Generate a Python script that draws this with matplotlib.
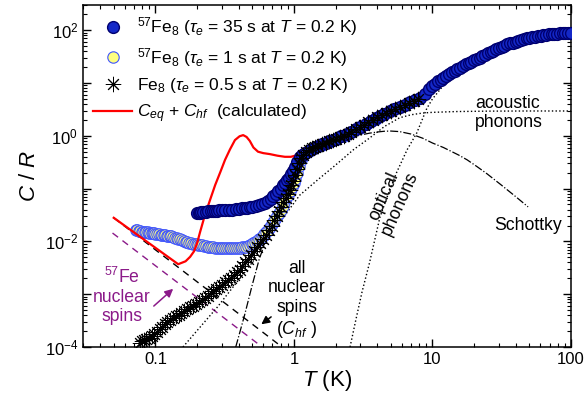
import numpy as np
import matplotlib
matplotlib.use('Agg')
import matplotlib.pyplot as plt
from matplotlib.ticker import LogLocator, FuncFormatter, NullFormatter

plt.rcParams['font.family'] = 'Liberation Sans'
plt.rcParams['mathtext.fontset'] = 'custom'
plt.rcParams['mathtext.rm'] = 'Liberation Sans'
plt.rcParams['mathtext.it'] = 'Liberation Sans:italic'

# 57Fe8, tau_e = 35 s
T_blue = [0.20, 0.205, 0.21, 0.215, 0.22, 0.23, 0.24, 0.25, 0.26, 0.27, 0.28, 0.29, 0.30, 0.32, 0.34,
          0.36, 0.38, 0.40, 0.42, 0.44, 0.46, 0.48, 0.50, 0.53, 0.56, 0.59, 0.62, 0.65, 0.68, 0.71,
          0.74, 0.77, 0.80, 0.83, 0.86, 0.89, 0.92, 0.95, 0.98, 1.01, 1.05, 1.1, 1.15, 1.2, 1.3, 1.4,
          1.5, 1.6, 1.7, 1.8, 1.9, 2.0, 2.2, 2.4, 2.6, 2.8, 3.0, 3.3, 3.6, 3.9, 4.2, 4.5, 4.9, 5.3,
          5.8, 6.3, 6.9, 7.5, 8.1, 8.8, 9.5,
          10.0, 10.5, 11.0, 11.5, 12.0, 12.6, 13.2, 13.8, 14.5, 15.1, 15.8, 16.6, 17.4, 18.2, 19.1,
          20.0, 20.9, 21.9, 22.9, 24.0, 25.1, 26.3, 27.5, 28.8, 30.2, 31.6, 33.1, 34.7, 36.3, 38.0,
          39.8, 41.7, 43.7, 45.7, 47.9, 50.1, 52.5, 55.0, 57.5, 60.3, 63.1, 66.1, 69.2, 72.4, 75.9,
          79.4, 83.2, 87.1, 91.2, 95.5, 100]
C_blue = [0.0345, 0.035, 0.035, 0.0355, 0.036, 0.036, 0.037, 0.037, 0.0375, 0.038, 0.038, 0.039, 0.039,
          0.0395, 0.040, 0.040, 0.041, 0.041, 0.042, 0.042, 0.043, 0.044, 0.045, 0.047, 0.049, 0.051,
          0.054, 0.058, 0.064, 0.072, 0.08, 0.09, 0.10, 0.115, 0.13, 0.145, 0.16, 0.19, 0.22, 0.26,
          0.32, 0.40, 0.44, 0.48, 0.55, 0.60, 0.65, 0.69, 0.74, 0.78, 0.83, 0.88, 0.97, 1.08, 1.2, 1.32,
          1.45, 1.68, 1.92, 2.15, 2.4, 2.6, 2.9, 3.2, 3.5, 3.9, 4.3, 4.7, 5.2, 6.3, 7.7,
          8.8, 9.7, 10.7, 11.6, 12.6, 13.8, 14.9, 16.0, 17.2, 18.3, 19.6, 21.1, 22.5, 23.8, 25.3,
          26.8, 28.3, 30.0, 31.8, 33.8, 36.5, 38.8, 41.0, 43.4, 46.0, 48.5, 51.0, 53.6, 56.0, 58.4,
          60.8, 63.2, 65.5, 67.7, 69.8, 71.8, 73.7, 75.5, 77.2, 78.8, 80.3, 81.7, 83.0, 84.2, 85.3,
          86.3, 87.2, 88.0, 88.7, 89.3, 89.8]

# 57Fe8, tau_e = 1 s
T_yel = [0.072, 0.074, 0.076, 0.078, 0.080, 0.082, 0.084, 0.086, 0.088, 0.090, 0.092, 0.094, 0.096,
         0.098, 0.100,
         0.103, 0.106, 0.109, 0.112, 0.115, 0.118, 0.121, 0.124, 0.127, 0.130,
         0.134, 0.138, 0.142, 0.146, 0.150,
         0.155, 0.160, 0.165, 0.170, 0.175, 0.180,
         0.186, 0.192, 0.198, 0.204, 0.210,
         0.217, 0.224, 0.231, 0.238, 0.245,
         0.253, 0.261, 0.269, 0.277,
         0.286, 0.295, 0.304, 0.313,
         0.323, 0.333, 0.343, 0.354, 0.365, 0.376, 0.388, 0.400, 0.412, 0.425,
         0.438, 0.451, 0.465, 0.479, 0.494, 0.509, 0.525, 0.541, 0.558, 0.575,
         0.593, 0.611, 0.630, 0.649, 0.669, 0.690, 0.711, 0.733, 0.756, 0.779,
         0.803, 0.828, 0.853, 0.880, 0.907, 0.935, 0.964, 0.994,
         1.02, 1.05, 1.08, 1.12, 1.17, 1.22, 1.28, 1.35, 1.45, 1.6, 1.8, 2.0, 2.3, 2.6, 3.0, 3.4,
         3.9, 4.5]
C_yel = [0.0164, 0.0161, 0.0158, 0.0155, 0.0153, 0.0151, 0.0150, 0.0149, 0.0148, 0.0147, 0.0146,
         0.0145, 0.0143, 0.0142, 0.0140,
         0.0138, 0.0136, 0.0134, 0.0132, 0.0131, 0.0130, 0.0129, 0.0127, 0.0126, 0.0124,
         0.0121, 0.0118, 0.0115, 0.0112, 0.0109,
         0.0106, 0.0102, 0.0099, 0.0097, 0.0095, 0.0093,
         0.0091, 0.0089, 0.0088, 0.0087, 0.0085,
         0.0084, 0.0082, 0.0081, 0.0080, 0.0079,
         0.0078, 0.0077, 0.0076, 0.0076,
         0.0075, 0.0075, 0.0074, 0.0074,
         0.0074, 0.0074, 0.0074, 0.0074, 0.0075, 0.0075, 0.0075, 0.0076, 0.0076, 0.0077,
         0.0078, 0.0080, 0.0083, 0.0086, 0.0089, 0.0093, 0.0097, 0.0102, 0.0109, 0.0117,
         0.0127, 0.0139, 0.0152, 0.0168, 0.0188, 0.021, 0.0235, 0.0265, 0.030, 0.035,
         0.040, 0.047, 0.055, 0.065, 0.076, 0.090, 0.105, 0.125,
         0.15, 0.20, 0.27, 0.35, 0.42, 0.47, 0.52, 0.56, 0.62, 0.68, 0.77, 0.86, 1.0, 1.18, 1.43, 1.72,
         2.1, 2.55]

# Fe8, tau_e = 0.5 s
T_star = [0.077, 0.08, 0.083, 0.086, 0.09, 0.094, 0.098, 0.102, 0.107, 0.112, 0.117, 0.122, 0.128,
          0.134, 0.14, 0.147, 0.154, 0.162, 0.17, 0.178, 0.187, 0.196, 0.206, 0.216, 0.227, 0.238,
          0.25, 0.262, 0.275, 0.289, 0.303, 0.318, 0.334, 0.351, 0.368, 0.386, 0.405, 0.425, 0.446,
          0.468, 0.49, 0.515, 0.54, 0.567, 0.595, 0.625, 0.656, 0.689, 0.72, 0.75, 0.78, 0.81, 0.84,
          0.87, 0.90, 0.93, 0.96, 0.99, 1.02, 1.05, 1.08, 1.12, 1.17, 1.22, 1.28, 1.35, 1.42, 1.5, 1.6,
          1.7, 1.8, 1.9, 2.0, 2.15, 2.3, 2.45, 2.6, 2.8, 3.0, 3.2, 3.45, 3.7, 4.0, 4.3, 4.6, 5.0, 5.4,
          5.8, 6.3, 6.8, 7.3, 7.8]
C_star = [1.2e-4, 1.3e-4, 1.35e-4, 1.4e-4, 1.5e-4, 1.65e-4, 1.8e-4, 1.95e-4, 2.15e-4, 2.4e-4, 2.7e-4,
          2.95e-4, 3.2e-4, 3.5e-4, 3.8e-4, 4.1e-4, 4.5e-4, 4.9e-4, 5.3e-4, 5.7e-4, 6.1e-4, 6.5e-4,
          7.0e-4, 7.7e-4, 8.5e-4, 9.4e-4, 1.04e-3, 1.15e-3, 1.25e-3, 1.37e-3, 1.5e-3, 1.68e-3, 1.85e-3,
          2.05e-3, 2.3e-3, 2.6e-3, 2.9e-3, 3.4e-3, 4.0e-3, 4.7e-3, 5.6e-3, 6.6e-3, 7.8e-3, 9.3e-3,
          0.011, 0.0135, 0.0165, 0.02, 0.025, 0.03, 0.037, 0.045, 0.055, 0.066, 0.08, 0.095, 0.115,
          0.14, 0.18, 0.24, 0.31, 0.38, 0.44, 0.49, 0.54, 0.58, 0.62, 0.65, 0.69, 0.74, 0.78, 0.83,
          0.88, 0.94, 1.01, 1.1, 1.2, 1.32, 1.45, 1.6, 1.8, 2.0, 2.25, 2.45, 2.68, 2.95, 3.25, 3.5,
          3.9, 4.25, 4.6, 5.0]

# calculated C_eq + C_hf
T_calc = [0.05, 0.146, 0.165, 0.178, 0.19, 0.2, 0.21, 0.228, 0.25, 0.27, 0.295, 0.318, 0.345, 0.375,
          0.405, 0.43, 0.455, 0.48, 0.51, 0.55, 0.6, 0.67, 0.76, 0.86, 0.95, 1.02, 1.1, 1.2, 1.4, 1.7,
          2.0, 2.5, 3.0, 3.5, 4.0, 5.0, 6.0, 7.0, 8.0, 9.0, 10, 12, 14, 17, 20, 24, 28, 33, 40, 49]
C_calc = [0.028, 0.0037, 0.0042, 0.0051, 0.0065, 0.0093, 0.015, 0.032, 0.065, 0.117, 0.21, 0.35, 0.55,
          0.83, 0.98, 1.03, 0.95, 0.8, 0.6, 0.5, 0.47, 0.45, 0.42, 0.40, 0.40, 0.42, 0.5, 0.58, 0.7,
          0.88, 1.02, 1.35, 1.7, 2.05, 2.5, 3.2, 3.9, 4.6, 5.4, 6.9, 9.0, 13.5, 19, 26, 33, 42, 50, 59,
          68, 77]

# model contributions
T_hf = [0.05, 0.82]
C_hf = [0.028, 1.0e-4]
T_fe = [0.049, 0.59]
C_fe = [0.0144, 1.0e-4]
T_schottky = [0.38, 0.44, 0.5, 0.56, 0.63, 0.7, 0.8, 0.9, 1.0, 1.1, 1.2, 1.4, 1.7, 2.0, 2.5, 3.0, 3.5,
              4.0, 4.5, 5.0, 5.8, 7.0, 8.5, 10, 12, 13.4, 15.5, 17.8, 21, 24.8, 31, 40, 49]
C_schottky = [1e-4, 4e-4, 1.5e-3, 4.5e-3, 0.011, 0.024, 0.045, 0.08, 0.15, 0.25, 0.33, 0.45, 0.6,
              0.72, 0.9, 1.03, 1.12, 1.18, 1.22, 1.23, 1.2, 1.08, 0.9, 0.73, 0.6, 0.52, 0.43, 0.35,
              0.26, 0.19, 0.12, 0.07, 0.045]
T_ac = [0.158, 0.28, 0.5, 0.8, 1.1, 1.5, 2.0, 2.7, 3.5, 4.5, 5.8, 7.0, 8.5, 10, 15, 25, 50, 100]
C_ac = [1e-4, 5.7e-4, 4e-3, 0.024, 0.075, 0.15, 0.28, 0.55, 0.9, 1.5, 2.2, 2.5, 2.7, 2.78, 2.88, 2.93,
        2.95, 2.95]
T_opt = [2.54, 2.8, 3.1, 3.5, 4.18, 4.8, 5.5, 6.55, 7.7, 9.1, 10, 12, 14, 17, 20, 25, 30, 40, 50, 70, 100]
C_opt = [1e-4, 3.3e-4, 1.1e-3, 3.8e-3, 0.029, 0.08, 0.2, 0.54, 1.13, 3.3, 5.0, 9, 13, 19, 24, 33, 40,
         53, 62, 75, 84]

purple = '#8b1a89'

fig = plt.figure(figsize=(5.85, 4.03), dpi=100)
ax = fig.add_axes([83 / 585, 1 - 347 / 403, 488 / 585, 342 / 403])

ax.plot(T_hf, C_hf, '--', color='black', lw=1, dashes=(5, 4), zorder=1)
ax.plot(T_fe, C_fe, '--', color=purple, lw=1, dashes=(5, 4), zorder=1)
ax.plot(T_schottky, C_schottky, '-.', color='black', lw=0.9, zorder=1)
ax.plot(T_ac, C_ac, ':', color='black', lw=1, zorder=1)
ax.plot(T_opt, C_opt, ':', color='black', lw=1, zorder=1)

ax.plot(T_yel, C_yel, 'o', ms=8.2, mfc='#ffff80', mec='#4055ff', mew=0.8, zorder=2,
        label=r'$^{57}$Fe$_8$ ($\tau_e$ = 1 s at $T$ = 0.2 K)')
ax.plot(T_calc, C_calc, '-', color='red', lw=1.6, zorder=3,
        label=r'$C_{eq}$ + $C_{hf}$  (calculated)')
ax.plot(T_blue, C_blue, 'o', ms=8.5, mfc='#1428c8', mec='#000070', mew=1, zorder=4,
        label=r'$^{57}$Fe$_8$ ($\tau_e$ = 35 s at $T$ = 0.2 K)')
ax.plot(T_star, C_star, ls='none', marker=(8, 2, 0), ms=11, color='black', mew=0.7, zorder=5,
        label=r'Fe$_8$ ($\tau_e$ = 0.5 s at $T$ = 0.2 K)')

ax.set_xscale('log')
ax.set_yscale('log')
ax.set_xlim(0.03, 100)
ax.set_ylim(1e-4, 300)

ax.xaxis.set_major_locator(LogLocator(base=10, numticks=10))
ax.xaxis.set_minor_locator(LogLocator(base=10, subs=np.arange(2, 10), numticks=20))
ax.xaxis.set_major_formatter(FuncFormatter(lambda v, p: '%g' % v))
ax.xaxis.set_minor_formatter(NullFormatter())
ax.yaxis.set_major_locator(LogLocator(base=10, numticks=20))
ax.yaxis.set_minor_locator(LogLocator(base=10, subs=np.arange(2, 10), numticks=40))


def ylab(v, p):
    e = int(round(np.log10(v)))
    return '$10^{%d}$' % e if e % 2 == 0 else ''


ax.yaxis.set_major_formatter(FuncFormatter(ylab))
ax.yaxis.set_minor_formatter(NullFormatter())
ax.tick_params(which='both', direction='in', top=True, right=True, labelsize=12)
ax.tick_params(which='major', length=6, width=1)
ax.tick_params(which='minor', length=3, width=0.8)
for s in ax.spines.values():
    s.set_linewidth(1.1)

ax.set_xlabel('$T$ (K)', fontsize=16, labelpad=1)
ax.set_ylabel('$C$ / $R$', fontsize=16, labelpad=3)

h, l = ax.get_legend_handles_labels()
order = [2, 0, 3, 1]
ax.legend([h[i] for i in order], [l[i] for i in order], loc='upper left', frameon=False,
          fontsize=12.5, numpoints=1, handlelength=2.2, handletextpad=0.3, labelspacing=0.42,
          bbox_to_anchor=(0.0, 1.0), borderaxespad=0.2)

fs = 12.7
ax.text(20.3, 2.7, 'acoustic\nphonons', fontsize=fs, ha='left', va='center', linespacing=1.15)
ax.text(5.1, 0.061, 'optical\nphonons', fontsize=fs, ha='center', va='center', rotation=66,
        linespacing=1.05)
ax.text(49, 0.0204, 'Schottky', fontsize=fs, ha='center', va='center')
ax.text(1.05, 7.8e-4, 'all\nnuclear\nspins\n($C_{hf}$ )', fontsize=fs, ha='center',
        va='center', linespacing=1.2)
ax.text(0.057, 9.3e-4, '$^{57}$Fe\nnuclear\nspins', fontsize=fs, ha='center', va='center',
        color=purple, linespacing=1.15)
ax.annotate('', xy=(0.56, 2.5e-4), xytext=(0.71, 4.0e-4),
            arrowprops=dict(arrowstyle='-|>', color='black', lw=1.1, mutation_scale=12))
ax.annotate('', xy=(0.139, 1.37e-3), xytext=(0.094, 5.5e-4),
            arrowprops=dict(arrowstyle='-|>', color=purple, lw=1.1, mutation_scale=12))

fig.savefig('out.png', dpi=100)
